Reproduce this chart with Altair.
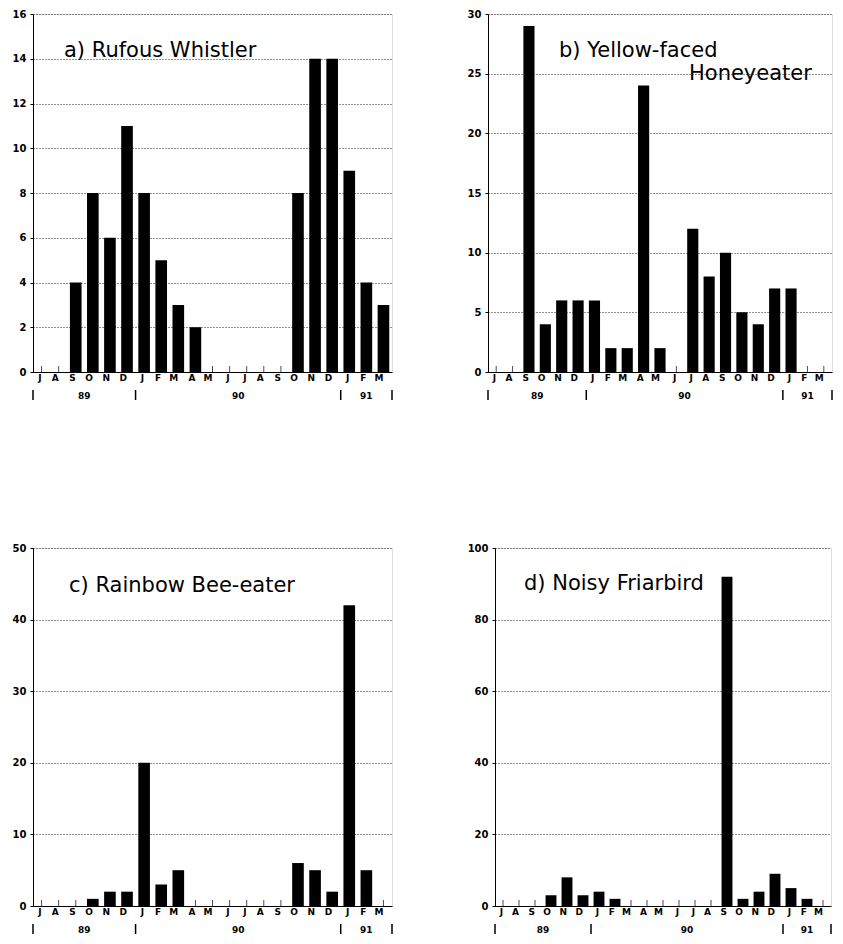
import altair as alt
import pandas as pd

months = ["Jul89", "Aug89", "Sep89", "Oct89", "Nov89", "Dec89",
          "Jan90", "Feb90", "Mar90", "Apr90", "May90", "Jun90",
          "Jul90", "Aug90", "Sep90", "Oct90", "Nov90", "Dec90",
          "Jan91", "Feb91", "Mar91"]

rufous = [0, 0, 4, 8, 6, 11, 8, 5, 3, 2, 0, 0, 0, 0, 0, 8, 14, 14, 9, 4, 3]
yellow = [0, 0, 29, 4, 6, 6, 6, 2, 2, 24, 2, 0, 12, 8, 10, 5, 4, 7, 7, 0, 0]
rainbow = [0, 0, 0, 1, 2, 2, 20, 3, 5, 0, 0, 0, 0, 0, 0, 6, 5, 2, 42, 5, 0]
noisy = [0, 0, 0, 3, 8, 3, 4, 2, 0, 0, 0, 0, 0, 0, 92, 2, 4, 9, 5, 2, 0]

year_labels_edge = ["89", "90"]
year_anchor_edge = ["Sep89", "Jun90"]
year_labels_mid = ["91"]
year_anchor_mid = ["Feb91"]
sep_start = ["Jul89", "Jan90", "Jan91"]
sep_end = ["Mar91"]

LABEL_FONT = "DejaVu Sans"
TITLE_FONT = "DejaVu Sans"


def panel(values, ymax, step, titles, w, h, min_extent=None):
    df = pd.DataFrame({"month": months, "count": values})
    axis_kw = dict(values=list(range(0, ymax + 1, step)), title=None, grid=True,
                   gridDash=[1, 2], gridColor="#222", gridWidth=1,
                   labelFont=LABEL_FONT, labelFontWeight="bold", labelFontSize=10,
                   labelColor="black", tickColor="black", tickSize=3,
                   domainColor="black", labelPadding=4, format="d")
    if min_extent is not None:
        axis_kw["minExtent"] = min_extent
    xaxis = alt.Axis(title=None, labelExpr="substring(datum.label, 0, 1)",
                     labelAngle=0, ticks=False, labelFont=LABEL_FONT,
                     labelFontWeight="bold", labelFontSize=9, labelColor="black",
                     labelPadding=5, domainColor="black", grid=False)
    xscale = alt.Scale(paddingInner=0, paddingOuter=0)
    base_x = alt.X("month:N", sort=months, scale=xscale, axis=xaxis)

    bars = alt.Chart(df).mark_bar(color="black", width=alt.RelativeBandSize(0.68)).encode(
        x=base_x,
        y=alt.Y("count:Q", scale=alt.Scale(domain=[0, ymax], nice=False),
                axis=alt.Axis(**axis_kw)),
    )
    ticks = alt.Chart(df).mark_tick(color="black", orient="vertical", size=6,
                                    thickness=1, yOffset=-3).encode(
        x=alt.X("month:N", sort=months),
        y=alt.datum(0),
    )
    sep1 = alt.Chart(pd.DataFrame({"month": sep_start})).mark_rule(
        color="black", strokeWidth=1.5).encode(
        x=alt.X("month:N", sort=months, bandPosition=0),
        y=alt.value(h + 18), y2=alt.value(h + 28))
    sep2 = alt.Chart(pd.DataFrame({"month": sep_end})).mark_rule(
        color="black", strokeWidth=1.5).encode(
        x=alt.X("month:N", sort=months, bandPosition=1),
        y=alt.value(h + 18), y2=alt.value(h + 28))
    yr1 = alt.Chart(pd.DataFrame({"month": year_anchor_edge, "yr": year_labels_edge})).mark_text(
        font=LABEL_FONT, fontWeight="bold", fontSize=9, baseline="middle", color="black").encode(
        x=alt.X("month:N", sort=months, bandPosition=1),
        y=alt.value(h + 24), text="yr:N")
    yr2 = alt.Chart(pd.DataFrame({"month": year_anchor_mid, "yr": year_labels_mid})).mark_text(
        font=LABEL_FONT, fontWeight="bold", fontSize=9, baseline="middle", color="black").encode(
        x=alt.X("month:N", sort=months, bandPosition=0.5),
        y=alt.value(h + 24), text="yr:N")
    layers = [ticks, bars, sep1, sep2, yr1, yr2]
    for (t, tx, ty) in titles:
        layers.append(
            alt.Chart(pd.DataFrame({"t": [t]})).mark_text(
                font=TITLE_FONT, fontSize=21, align="left", baseline="middle",
                color="black").encode(x=alt.value(tx), y=alt.value(ty), text="t:N")
        )
    return alt.layer(*layers).properties(width=w, height=h)


H = 358
a = panel(rufous, 16, 2, [("a) Rufous Whistler", 31, 37)], 359, H, min_extent=24)
b = panel(yellow, 30, 5, [("b) Yellow-faced", 71, 37), ("Honeyeater", 201, 60)], 344, H)
c = panel(rainbow, 50, 10, [("c) Rainbow Bee-eater", 36, 38)], 359, H, min_extent=24)
d = panel(noisy, 100, 20, [("d) Noisy Friarbird", 29, 36)], 336, H)

chart = alt.vconcat(
    alt.hconcat(a, b, spacing=72),
    alt.hconcat(c, d, spacing=72),
    spacing=140,
).properties(padding=0).configure_view(stroke="black", strokeWidth=1.5).configure(background="white")

chart.save("out.html", embed_options={"renderer": "svg", "actions": False})
